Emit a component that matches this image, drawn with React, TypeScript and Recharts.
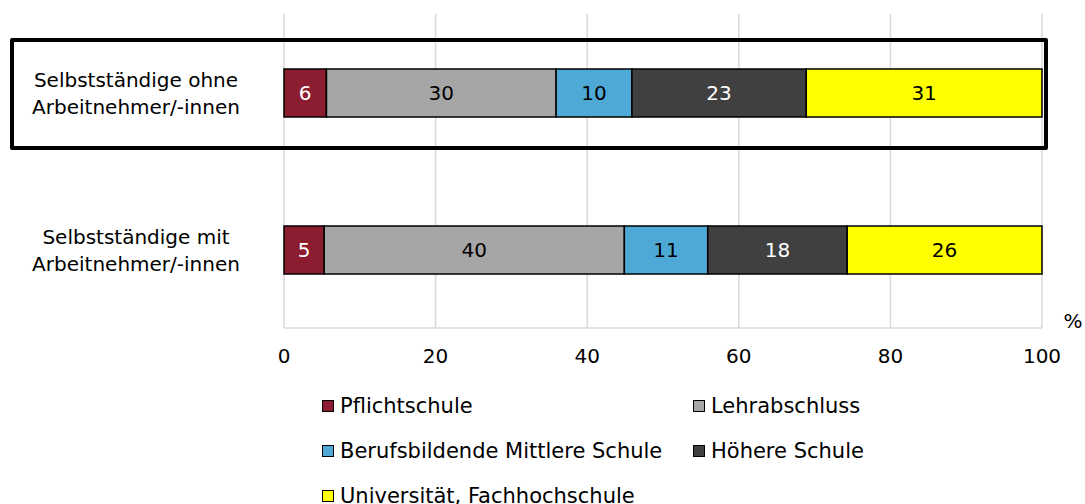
import React from 'react';
import {
  BarChart,
  Bar,
  XAxis,
  YAxis,
  CartesianGrid,
  Legend,
  LabelList,
} from 'recharts';

// categories (two-line tick labels)
const categories = [
  ['Selbstständige ohne', 'Arbeitnehmer/-innen'],
  ['Selbstständige mit', 'Arbeitnehmer/-innen'],
];

// shares in % per category
const pflichtschule = [5.6, 5.3];
const lehrabschluss = [30.3, 39.6];
const bms = [10.0, 11.0];
const hoehereSchule = [23.0, 18.4];
const universitaet = [31.1, 25.7];

const xTicks = [0, 20, 40, 60, 80, 100];

const seriesNames = [
  'Pflichtschule',
  'Lehrabschluss',
  'Berufsbildende Mittlere Schule',
  'Höhere Schule',
  'Universität, Fachhochschule',
];

const FONT = '"DejaVu Sans", Verdana, sans-serif';

const series = [
  { key: 'pflicht', name: seriesNames[0], values: pflichtschule, fill: '#8c1c2f', text: '#ffffff' },
  { key: 'lehre', name: seriesNames[1], values: lehrabschluss, fill: '#a6a6a6', text: '#000000' },
  { key: 'bms', name: seriesNames[2], values: bms, fill: '#4fa9d6', text: '#000000' },
  { key: 'ahs', name: seriesNames[3], values: hoehereSchule, fill: '#404040', text: '#ffffff' },
  { key: 'uni', name: seriesNames[4], values: universitaet, fill: '#ffff00', text: '#000000' },
];

const data = categories.map((lines, i) => {
  const row: Record<string, any> = { name: lines.join(' '), lines };
  series.forEach((s) => {
    row[s.key] = s.values[i];
  });
  return row;
});

const CategoryTick = (props: any) => {
  const { y, payload } = props;
  const lines = categories[payload.index] || [payload.value];
  return (
    <text x={136} y={y} textAnchor="middle" fontFamily={FONT} fontSize={20} fill="#000">
      <tspan x={136} dy={-6}>{lines[0]}</tspan>
      <tspan x={136} dy={27}>{lines[1]}</tspan>
    </text>
  );
};

const LegendContent = () => (
  <div style={{ position: 'relative', width: 1085, height: 114, fontFamily: FONT, fontSize: 21 }}>
    {series.map((s, i) => (
      <div
        key={s.key}
        style={{
          position: 'absolute',
          left: i % 2 === 0 ? 322 : 693,
          top: Math.floor(i / 2) * 45 - 1,
          display: 'flex',
          alignItems: 'center',
          whiteSpace: 'nowrap',
          color: '#000',
        }}
      >
        <span
          style={{
            display: 'inline-block',
            width: 12,
            height: 12,
            background: s.fill,
            border: '1px solid #000',
            boxSizing: 'border-box',
            marginRight: 6,
          }}
        />
        {s.name}
      </div>
    ))}
  </div>
);

const App: React.FC = () => {
  return (
    <div style={{ position: 'absolute', left: 0, top: 0, width: 1085, height: 504, background: '#fff' }}>
      <BarChart
        width={1085}
        height={504}
        data={data}
        layout="vertical"
        margin={{ top: 14, right: 43, left: 14, bottom: 136 }}
        barSize={48}
      >
        <CartesianGrid horizontal={false} stroke="#d9d9d9" strokeWidth={1.5} />
        <XAxis
          type="number"
          domain={[0, 100]}
          ticks={xTicks}
          height={40}
          tickLine={false}
          axisLine={{ stroke: '#d9d9d9', strokeWidth: 1.5 }}
          tickMargin={15}
          tick={{ fontSize: 20, fill: '#000', fontFamily: FONT }}
          label={(p: any) => {
            const vb = p.viewBox;
            return (
              <text x={vb.x + vb.width + 31} y={vb.y} textAnchor="middle" fontFamily={FONT} fontSize={20} fill="#000">
                %
              </text>
            );
          }}
        />
        <YAxis
          type="category"
          dataKey="name"
          width={270}
          tickLine={false}
          axisLine={false}
          tick={<CategoryTick />}
        />
        <Legend
          verticalAlign="middle"
          align="center"
          layout="horizontal"
          wrapperStyle={{ top: 395, left: 0, width: 1085 }}
          content={<LegendContent />}
        />
        {series.map((s) => (
          <Bar
            key={s.key}
            dataKey={s.key}
            name={s.name}
            stackId="a"
            fill={s.fill}
            stroke="#000"
            strokeWidth={1.5}
            isAnimationActive={false}
          >
            <LabelList
              dataKey={s.key}
              position="center"
              formatter={(v: any) => Math.round(Number(v))}
              fill={s.text}
              fontSize={20}
              fontFamily={FONT}
            />
          </Bar>
        ))}
      </BarChart>
      <div
        style={{
          position: 'absolute',
          left: 10,
          top: 38,
          width: 1038,
          height: 112,
          border: '4px solid #000',
          borderRadius: 2,
          boxSizing: 'border-box',
          pointerEvents: 'none',
        }}
      />
    </div>
  );
};

export default App;
